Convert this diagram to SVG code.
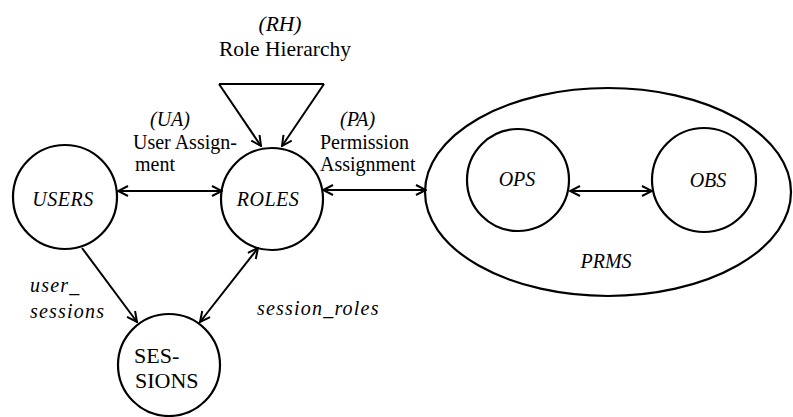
<svg xmlns="http://www.w3.org/2000/svg" width="793" height="417" viewBox="0 0 793 417">
<style>
  .node { fill: #fff; stroke: #000; stroke-width: 2.2; }
  .edge { fill: none; stroke: #000; stroke-width: 2; }
  text { font-family: "Liberation Serif", serif; font-size: 20px; fill: #000; }
  .it { font-style: italic; }
  .sp { letter-spacing: 1.2px; }
  .big { font-size: 21.5px; }
  .nl { font-size: 22px; }
  .c { text-anchor: middle; }
</style>
<defs>
  <marker id="arr" viewBox="0 0 12 12" refX="11" refY="6" markerWidth="12" markerHeight="12" markerUnits="userSpaceOnUse" orient="auto-start-reverse">
    <path d="M1,1 L11,6 L1,11" fill="none" stroke="#000" stroke-width="2"/>
  </marker>
</defs>
<rect width="793" height="417" fill="#fff"/>

<g id="labels">
  <text class="it c big" x="280" y="31">(RH)</text>
  <text class="c big" x="285" y="56">Role Hierarchy</text>
  <text class="it" x="150" y="126">(UA)</text>
  <text x="133" y="149">User Assign-</text>
  <text x="135" y="171">ment</text>
  <text class="it" x="340" y="126">(PA)</text>
  <text x="320" y="149">Permission</text>
  <text x="320" y="171">Assignment</text>
  <text class="it sp" x="30" y="292">user_</text>
  <text class="it sp" x="30" y="318">sessions</text>
  <text class="it sp" x="257" y="315">session_roles</text>
</g>

<g id="users">
  <circle class="node" cx="65" cy="197" r="52"/>
  <text class="it c" x="63" y="206" letter-spacing="0.5">USERS</text>
</g>
<g id="roles">
  <circle class="node" cx="272" cy="199" r="51"/>
  <text class="it c" x="268" y="206" letter-spacing="0.5">ROLES</text>
</g>
<g id="sessions">
  <circle class="node" cx="169" cy="365" r="51"/>
  <text class="nl" x="134" y="363">SES-</text>
  <text class="nl" x="135" y="388">SIONS</text>
</g>
<g id="prms">
  <ellipse class="node" cx="608" cy="192" rx="183" ry="104"/>
  <text class="it c" x="606" y="268">PRMS</text>
</g>
<g id="ops">
  <circle class="node" cx="518" cy="180" r="51"/>
  <text class="it c" x="517" y="186">OPS</text>
</g>
<g id="obs">
  <circle class="node" cx="704" cy="180" r="52"/>
  <text class="it c" x="708" y="187">OBS</text>
</g>

<g id="connectors">
  <line class="edge" x1="219" y1="84" x2="324" y2="84"/>
  <line class="edge" x1="219" y1="84" x2="261" y2="146" marker-end="url(#arr)"/>
  <line class="edge" x1="324" y1="84" x2="282" y2="146" marker-end="url(#arr)"/>
  <line class="edge" x1="118" y1="191" x2="222" y2="191" marker-start="url(#arr)" marker-end="url(#arr)"/>
  <line class="edge" x1="323" y1="190" x2="426" y2="190" marker-start="url(#arr)" marker-end="url(#arr)"/>
  <line class="edge" x1="570" y1="191" x2="652" y2="191" marker-start="url(#arr)" marker-end="url(#arr)"/>
  <line class="edge" x1="82" y1="248" x2="137" y2="322" marker-end="url(#arr)"/>
  <line class="edge" x1="258" y1="248" x2="200" y2="322" marker-start="url(#arr)" marker-end="url(#arr)"/>
</g>
</svg>
